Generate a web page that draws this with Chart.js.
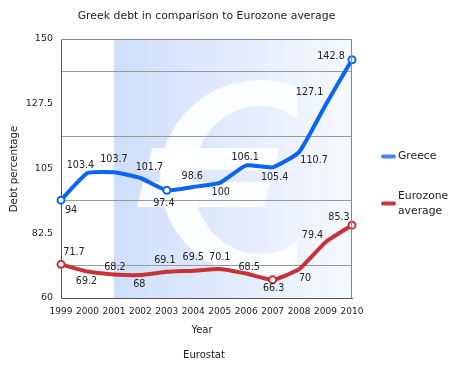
<!DOCTYPE html>
<html>
<head>
<meta charset="utf-8">
<script src="https://cdn.jsdelivr.net/npm/chart.js@4"></script>
<style>
html,body{margin:0;padding:0;background:#fff;}
#wrap{width:457px;height:383px;}
</style>
</head>
<body>
<div id="wrap"><canvas id="c" width="457" height="383"></canvas></div>
<script>
// ---- data ----
const years = ['1999','2000','2001','2002','2003','2004','2005','2006','2007','2008','2009','2010'];
const greece = [94, 103.4, 103.7, 101.7, 97.4, 98.6, 100, 106.1, 105.4, 110.7, 127.1, 142.8];
const eurozone = [71.7, 69.2, 68.2, 68, 69.1, 69.5, 70.1, 68.5, 66.3, 70, 79.4, 85.3];
const yTickLabels = [60, 82.5, 105, 127.5, 150];
const titleText = 'Greek debt in comparison to Eurozone average';
const xTitle = 'Year';
const yTitle = 'Debt percentage';
const sourceText = 'Eurostat';
const seriesNames = ['Greece', ['Eurozone', 'average']];

// ---- styling (label placement offsets in px) ----
const greeceLabelOffsets = [[10,10],[-7,-8],[0,-13],[9,-10],[-3,13],[-1,-10],[1,10],[-1,-8],[2,10],[15,8],[-16,-12],[-21,-3]];
const euroLabelOffsets = [[13,-12],[-1,10],[1,-7],[-1,10],[-2,-11],[0,-13],[0,-11],[3,-6],[1,9],[6,9],[-13,-7],[-13,-8]];
const markerIdx = {g:[0,4,11], e:[0,8,11]};
const BLUE = '#0a64f5', RED = '#c83235';
const FONT = '"DejaVu Sans", sans-serif';
const TXT = '#222';

function radii(idx){ return years.map((_,i)=> idx.includes(i) ? 3.5 : 0); }

function drawEuro(ctx){
  // decorative background euro sign
  ctx.save();
  ctx.fillStyle = 'rgba(255,255,255,0.9)';
  ctx.save();
  ctx.beginPath(); ctx.rect(0, 0, 297, 400); ctx.clip();
  ctx.beginPath();
  ctx.ellipse(260, 178, 100, 98, 0, 0, Math.PI*2);
  ctx.ellipse(260, 180, 67, 74, 0, 0, Math.PI*2);
  ctx.fill('evenodd');
  ctx.restore();
  ctx.beginPath();
  ctx.moveTo(152,148); ctx.lineTo(279,148); ctx.lineTo(274,170); ctx.lineTo(147,170); ctx.closePath();
  ctx.fill();
  ctx.beginPath();
  ctx.moveTo(143,182); ctx.lineTo(270,182); ctx.lineTo(264,207); ctx.lineTo(137,207); ctx.closePath();
  ctx.fill();
  ctx.restore();
}

const bgPlugin = {
  id:'bg',
  beforeDraw(chart){
    const {ctx, chartArea:a, scales:{x}} = chart;
    const x0 = x.getPixelForValue(2);
    ctx.save();
    ctx.fillStyle = '#fff';
    ctx.fillRect(a.left, a.top, a.right-a.left, a.bottom-a.top);
    const g = ctx.createLinearGradient(x0, 0, a.right, 0);
    g.addColorStop(0, 'rgb(206,222,250)');
    g.addColorStop(1, 'rgb(246,249,255)');
    ctx.fillStyle = g;
    ctx.fillRect(x0, a.top, a.right-x0, a.bottom-a.top);
    ctx.beginPath(); ctx.rect(a.left, a.top, a.right-a.left, a.bottom-a.top); ctx.clip();
    drawEuro(ctx);
    ctx.restore();
  },
  afterDatasetsDraw(chart){
    const {ctx, chartArea:a} = chart;
    ctx.save();
    ctx.strokeStyle = '#888'; ctx.lineWidth = 1;
    ctx.beginPath();
    ctx.moveTo(a.left, a.top+0.5); ctx.lineTo(a.right-0.5, a.top+0.5); ctx.lineTo(a.right-0.5, a.bottom);
    ctx.stroke();
    ctx.restore();
  },
  afterDraw(chart){
    const {ctx, chartArea:a} = chart;
    ctx.save();
    ctx.fillStyle = TXT;
    ctx.textBaseline = 'middle';
    // data labels
    ctx.font = '9.6px ' + FONT;
    ctx.textAlign = 'center';
    [[0, greece, greeceLabelOffsets],[1, eurozone, euroLabelOffsets]].forEach(([di, vals, offs])=>{
      const meta = chart.getDatasetMeta(di);
      meta.data.forEach((pt,i)=>{
        ctx.fillText(String(vals[i]), pt.x + offs[i][0], pt.y + offs[i][1]);
      });
    });
    // title
    const cx = (a.left + a.right)/2;
    ctx.font = '10.9px ' + FONT;
    ctx.fillText(titleText, cx, 16);
    ctx.font = '10px ' + FONT;
    ctx.fillText(xTitle, 202, 330);
    ctx.fillText(sourceText, 204, 355);
    ctx.save();
    ctx.translate(14, 169);
    ctx.rotate(-Math.PI/2);
    ctx.font = '10.3px ' + FONT;
    ctx.fillText(yTitle, 0, 0);
    ctx.restore();
    // legend
    ctx.font = '10.8px ' + FONT;
    ctx.textAlign = 'left';
    ctx.lineWidth = 4; ctx.lineCap = 'round';
    ctx.strokeStyle = '#4a86f2';
    ctx.beginPath(); ctx.moveTo(383,156.5); ctx.lineTo(394,156.5); ctx.stroke();
    ctx.fillText(seriesNames[0], 398, 156.5);
    ctx.strokeStyle = '#d0343a';
    ctx.beginPath(); ctx.moveTo(383,203.5); ctx.lineTo(394,203.5); ctx.stroke();
    ctx.fillText(seriesNames[1][0], 398, 196.5);
    ctx.fillText(seriesNames[1][1], 398, 211);
    ctx.restore();
  }
};

new Chart(document.getElementById('c'), {
  type:'line',
  data:{
    labels: years,
    datasets:[
      {label:'Greece', data:greece, borderColor:BLUE, borderWidth:4, tension:0.15,
       pointRadius:radii(markerIdx.g), pointHoverRadius:0, pointBackgroundColor:'#fff', pointBorderColor:BLUE, pointBorderWidth:2},
      {label:'Eurozone average', data:eurozone, borderColor:RED, borderWidth:4, tension:0.15,
       pointRadius:radii(markerIdx.e), pointHoverRadius:0, pointBackgroundColor:'#fff', pointBorderColor:RED, pointBorderWidth:2}
    ]
  },
  options:{
    responsive:false, animation:false, devicePixelRatio:1,
    layout:{padding:{top:39, right:105, bottom:0, left:0}},
    plugins:{legend:{display:false}, title:{display:false}, tooltip:{enabled:false}},
    scales:{
      x:{
        offset:false,
        grid:{display:false, drawTicks:false},
        border:{display:true, color:'#555', width:1},
        ticks:{color:TXT, font:{family:FONT, size:9}, padding:8, maxRotation:0, autoSkip:false},
        afterFit(s){ s.height = 85; }
      },
      y:{
        min:60, max:150,
        grid:{drawTicks:false, color:(c)=> (c.index % 2 === 1) ? '#9a9a9a' : 'rgba(0,0,0,0)', lineWidth:1},
        border:{display:true, color:'#555', width:1},
        afterBuildTicks(s){
          const t = [];
          for (let i=0;i<yTickLabels.length;i++){
            t.push({value:yTickLabels[i]});
            if (i < yTickLabels.length-1) t.push({value:(yTickLabels[i]+yTickLabels[i+1])/2});
          }
          s.ticks = t;
        },
        ticks:{color:TXT, font:{family:FONT, size:9.5}, padding:8,
          callback:(v)=> yTickLabels.includes(v) ? String(v) : ''},
        afterFit(s){ s.width = 61; }
      }
    }
  },
  plugins:[bgPlugin]
});
</script>
</body>
</html>
